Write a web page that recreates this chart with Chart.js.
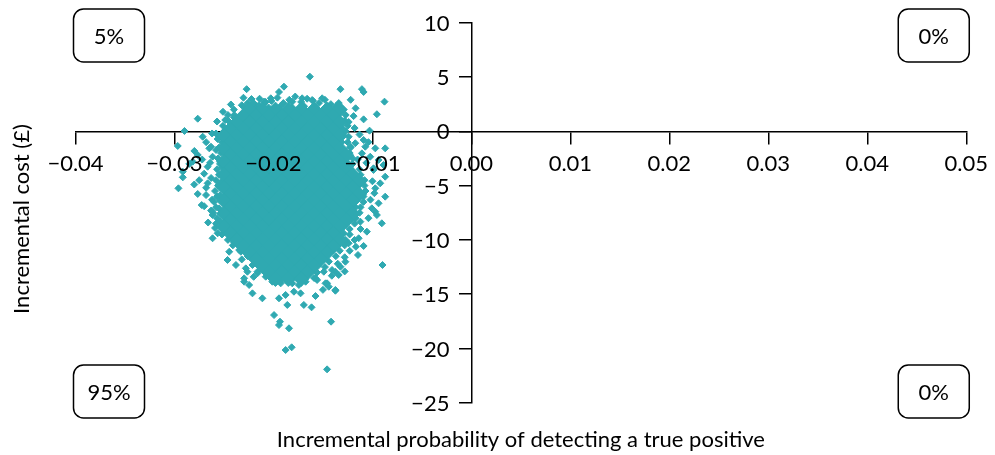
<!DOCTYPE html>
<html>
<head>
<meta charset="utf-8">
<title>Cost-effectiveness plane</title>
<script src="https://cdn.jsdelivr.net/npm/chart.js@4.4.1/dist/chart.umd.min.js"></script>
<style>
  html, body { margin: 0; padding: 0; background: #fff; }
  #wrap { width: 995px; height: 455px; }
</style>
</head>
<body>
<div id="wrap"><canvas id="planeChart" width="995" height="455"></canvas></div>
<script>
// axis ticks
const xTicks = [-0.04, -0.03, -0.02, -0.01, 0, 0.01, 0.02, 0.03, 0.04, 0.05];
const yTicks = [-25, -20, -15, -10, -5, 0, 5, 10];

// share of simulations in each quadrant: NW, NE, SW, SE
const quadrantLabels = ["5%", "0%", "95%", "0%"];

const xTitle = "Incremental probability of detecting a true positive";
const yTitle = "Incremental cost (£)";

// solid centre of the cloud, read row by row: [cost, [probabilities]]
const coreRows = [
  [2.0, [-0.0224, -0.0211, -0.0198, -0.0185, -0.0172, -0.0159, -0.0146, -0.0133]],
  [1.4, [-0.02305, -0.02175, -0.02045, -0.01915, -0.01785, -0.01655, -0.01525, -0.01395]],
  [0.8, [-0.0237, -0.0224, -0.0211, -0.0198, -0.0185, -0.0172, -0.0159, -0.0146, -0.0133]],
  [0.2, [-0.02435, -0.02305, -0.02175, -0.02045, -0.01915, -0.01785, -0.01655, -0.01525, -0.01395]],
  [-0.4, [-0.025, -0.0237, -0.0224, -0.0211, -0.0198, -0.0185, -0.0172, -0.0159, -0.0146, -0.0133]],
  [-1.0, [-0.02435, -0.02305, -0.02175, -0.02045, -0.01915, -0.01785, -0.01655, -0.01525, -0.01395]],
  [-1.6, [-0.025, -0.0237, -0.0224, -0.0211, -0.0198, -0.0185, -0.0172, -0.0159, -0.0146, -0.0133]],
  [-2.2, [-0.02435, -0.02305, -0.02175, -0.02045, -0.01915, -0.01785, -0.01655, -0.01525, -0.01395, -0.01265]],
  [-2.8, [-0.025, -0.0237, -0.0224, -0.0211, -0.0198, -0.0185, -0.0172, -0.0159, -0.0146, -0.0133]],
  [-3.4, [-0.02435, -0.02305, -0.02175, -0.02045, -0.01915, -0.01785, -0.01655, -0.01525, -0.01395, -0.01265]],
  [-4.0, [-0.025, -0.0237, -0.0224, -0.0211, -0.0198, -0.0185, -0.0172, -0.0159, -0.0146, -0.0133, -0.012]],
  [-4.6, [-0.02435, -0.02305, -0.02175, -0.02045, -0.01915, -0.01785, -0.01655, -0.01525, -0.01395, -0.01265, -0.01135]],
  [-5.2, [-0.025, -0.0237, -0.0224, -0.0211, -0.0198, -0.0185, -0.0172, -0.0159, -0.0146, -0.0133, -0.012]],
  [-5.8, [-0.02435, -0.02305, -0.02175, -0.02045, -0.01915, -0.01785, -0.01655, -0.01525, -0.01395, -0.01265, -0.01135]],
  [-6.4, [-0.025, -0.0237, -0.0224, -0.0211, -0.0198, -0.0185, -0.0172, -0.0159, -0.0146, -0.0133, -0.012]],
  [-7.0, [-0.02435, -0.02305, -0.02175, -0.02045, -0.01915, -0.01785, -0.01655, -0.01525, -0.01395, -0.01265]],
  [-7.6, [-0.025, -0.0237, -0.0224, -0.0211, -0.0198, -0.0185, -0.0172, -0.0159, -0.0146, -0.0133, -0.012]],
  [-8.2, [-0.02435, -0.02305, -0.02175, -0.02045, -0.01915, -0.01785, -0.01655, -0.01525, -0.01395, -0.01265]],
  [-8.8, [-0.025, -0.0237, -0.0224, -0.0211, -0.0198, -0.0185, -0.0172, -0.0159, -0.0146, -0.0133]],
  [-9.4, [-0.02435, -0.02305, -0.02175, -0.02045, -0.01915, -0.01785, -0.01655, -0.01525, -0.01395]],
  [-10.0, [-0.0237, -0.0224, -0.0211, -0.0198, -0.0185, -0.0172, -0.0159, -0.0146, -0.0133]],
  [-10.6, [-0.02305, -0.02175, -0.02045, -0.01915, -0.01785, -0.01655, -0.01525, -0.01395]],
  [-11.2, [-0.0224, -0.0211, -0.0198, -0.0185, -0.0172, -0.0159, -0.0146]],
  [-11.8, [-0.02175, -0.02045, -0.01915, -0.01785, -0.01655, -0.01525]],
  [-12.4, [-0.0211, -0.0198, -0.0185, -0.0172, -0.0159]],
  [-13.0, [-0.02045, -0.01915, -0.01785, -0.01655]],
  [-13.6, [-0.0198, -0.0185, -0.0172]]
];

// points along the rim of the dense part
const edgePoints = [
  // left rim
  [-0.0232, 2.4], [-0.0240, 2.0], [-0.0246, 1.5], [-0.0246, 1.0], [-0.0251, 0.5], [-0.0250, 0.0],
  [-0.0254, -0.5], [-0.0252, -1.0], [-0.0255, -1.5], [-0.0253, -2.0], [-0.0256, -2.5], [-0.0254, -3.0],
  [-0.0257, -3.5], [-0.0255, -4.0], [-0.0258, -4.5], [-0.0256, -5.0], [-0.0259, -5.5], [-0.0257, -6.0],
  [-0.0260, -6.5], [-0.0258, -7.0], [-0.0261, -7.5], [-0.0257, -8.0], [-0.0258, -8.5], [-0.0252, -9.0],
  [-0.0252, -9.5], [-0.0246, -10.0], [-0.0241, -10.5], [-0.0230, -11.0], [-0.0226, -11.5], [-0.0216, -12.0],
  [-0.0214, -12.5], [-0.0206, -13.0], [-0.0203, -13.5],
  [-0.0240, 1.3], [-0.0252, -3.3], [-0.0253, -4.7], [-0.0254, -5.9], [-0.0255, -7.1], [-0.0254, -8.3],
  // right rim
  [-0.0134, 2.6], [-0.0130, 2.0], [-0.0127, 1.5], [-0.0128, 1.0], [-0.0125, 0.5], [-0.0127, 0.0],
  [-0.0124, -0.5], [-0.0125, -1.0], [-0.0122, -1.5], [-0.0123, -2.0], [-0.0120, -2.5], [-0.0120, -3.0],
  [-0.0113, -3.5], [-0.0112, -4.0], [-0.0108, -4.5], [-0.0108, -5.0], [-0.0107, -5.5], [-0.0109, -6.0],
  [-0.0109, -6.5], [-0.0112, -7.0], [-0.0113, -7.5], [-0.0117, -8.0], [-0.0118, -8.5], [-0.0123, -9.0],
  [-0.0123, -9.5], [-0.0127, -10.0], [-0.0128, -10.5], [-0.0133, -11.0], [-0.0137, -11.5], [-0.0144, -12.0],
  [-0.0148, -12.5], [-0.0156, -13.0], [-0.0159, -13.5],
  [-0.0130, 0.2], [-0.0131, -1.0], [-0.0126, -2.8], [-0.0117, -7.0], [-0.0129, -9.4],
  // top rim
  [-0.0226, 2.6], [-0.0220, 2.6], [-0.0214, 3.0], [-0.0208, 2.7], [-0.0202, 2.8],
  [-0.0196, 3.1], [-0.0190, 2.6], [-0.0184, 2.9], [-0.0178, 3.2], [-0.0172, 2.7], [-0.0166, 3.0],
  [-0.0160, 2.8], [-0.0154, 2.6], [-0.0148, 2.9], [-0.0142, 2.5], [-0.0137, 2.3],
  [-0.0229, 2.2], [-0.0217, 2.3], [-0.0205, 2.2], [-0.0193, 2.3], [-0.0181, 2.2], [-0.0169, 2.3],
  [-0.0157, 2.2], [-0.0145, 2.3]
];

// scattered simulations around the cloud
const outlierPoints = [
  [-0.01632, 5.03], [-0.01894, 4.11], [-0.02271, 3.88], [-0.01323, 3.88], [-0.01106, 3.88], [-0.01089, 3.62],
  [-0.00878, 2.73], [-0.00955, 1.57], [-0.01089, 1.10], [-0.01170, 2.12], [-0.01240, 0.86], [-0.01029, 0.06],
  [-0.02430, 2.47], [-0.02765, 1.16], [-0.02899, 0.03], [-0.02967, -1.35], [-0.02715, -0.50], [-0.02487, 1.04],
  [-0.02303, 3.09], [-0.02222, 2.97], [-0.02027, 3.04], [-0.01944, 3.62], [-0.01810, 2.73], [-0.01710, 3.04],
  [-0.01609, 2.88], [-0.01508, 3.04], [-0.01424, 2.12], [-0.01341, 2.27], [-0.02396, 1.50], [-0.02346, 0.88],
  [-0.02145, 2.42], [-0.02095, 2.73],
  [-0.02564, -0.71], [-0.02631, -1.42], [-0.02580, -1.72], [-0.02799, -1.81], [-0.02765, -2.18], [-0.02816, -2.80],
  [-0.02665, -3.26], [-0.02916, -3.72], [-0.02916, -4.24], [-0.02960, -5.25], [-0.02765, -5.77], [-0.02725, -6.79],
  [-0.02665, -4.79], [-0.02681, -5.87], [-0.02615, -9.85], [-0.02615, -7.71], [-0.02648, -1.57], [-0.02615, -2.34],
  [-0.0262, -0.2], [-0.0268, -1.0], [-0.0272, -2.6], [-0.0264, -2.9], [-0.0270, -3.9], [-0.0263, -4.3],
  [-0.0275, -4.5], [-0.0268, -5.2], [-0.0262, -6.3], [-0.0270, -6.9], [-0.0263, -7.3], [-0.0266, -8.4],
  [-0.0259, -8.9], [-0.0285, -3.0], [-0.0280, -4.9], [-0.0258, -0.2], [-0.0251, 1.8], [-0.0257, 0.9],
  [-0.00871, -1.57], [-0.01072, -1.42], [-0.01173, -1.10], [-0.01089, -0.80], [-0.00971, -1.57], [-0.01106, -2.03],
  [-0.01022, -2.34], [-0.00938, -2.64], [-0.00888, -3.10], [-0.00989, -3.41], [-0.00871, -4.18], [-0.00921, -4.79],
  [-0.00971, -5.25], [-0.00871, -6.02], [-0.00938, -6.63], [-0.00955, -7.71], [-0.01006, -7.09], [-0.00905, -8.47],
  [-0.01056, -9.24], [-0.01122, -8.32], [-0.01139, -9.85], [-0.01089, -10.56], [-0.01167, -10.63], [-0.01146, -11.39],
  [-0.00898, -12.31], [-0.00971, -7.40], [-0.00989, -3.56], [-0.01223, -1.42],
  [-0.0118, 0.3], [-0.0113, -0.3], [-0.0104, -1.0], [-0.0115, -2.6], [-0.0106, -2.9], [-0.0100, -4.6],
  [-0.0098, -5.7], [-0.0102, -6.3], [-0.0104, -8.0], [-0.0112, -9.0], [-0.0118, -10.0], [-0.0123, -11.0],
  [-0.0128, -11.6], [-0.0135, -12.2], [-0.0119, 1.4], [-0.0122, 2.9],
  [-0.02447, -11.09], [-0.02464, -11.85], [-0.02329, -11.09], [-0.02379, -12.31], [-0.02279, -12.62], [-0.02296, -13.54],
  [-0.02480, -9.09], [-0.02430, -9.71], [-0.02564, -9.39], [-0.02346, -10.93], [-0.02212, -12.31], [-0.02162, -12.93],
  [-0.0240, -10.2], [-0.0232, -11.8], [-0.0220, -13.4],
  [-0.01240, -10.31], [-0.01273, -12.01], [-0.01408, -12.77], [-0.01323, -12.47], [-0.01374, -14.61], [-0.01474, -14.00],
  [-0.0141, -13.3], [-0.0150, -14.6], [-0.0128, -12.9]
];

// lower tail of the cloud
const tailPoints = [
  [-0.02263, -12.93], [-0.02162, -13.08], [-0.02078, -13.39], [-0.01994, -13.23], [-0.01911, -13.54], [-0.01826, -13.08],
  [-0.01743, -13.39], [-0.01659, -13.08], [-0.01575, -13.54], [-0.01491, -12.93], [-0.01374, -12.93], [-0.01341, -13.23],
  [-0.02296, -13.85], [-0.02246, -14.15], [-0.02011, -13.85], [-0.01927, -14.00], [-0.01810, -14.00], [-0.01743, -14.15],
  [-0.01675, -13.85], [-0.01559, -13.69], [-0.01458, -14.00], [-0.01441, -14.31],
  [-0.02212, -14.92], [-0.02112, -15.38], [-0.01944, -15.38], [-0.01877, -15.07], [-0.01793, -14.77], [-0.01726, -14.92],
  [-0.01575, -15.17], [-0.01374, -14.68],
  [-0.01860, -15.99], [-0.01693, -15.99], [-0.01615, -16.21],
  [-0.01994, -16.92], [-0.01934, -17.53], [-0.01944, -17.84], [-0.01843, -18.14], [-0.01418, -17.53],
  [-0.01877, -20.14], [-0.01816, -19.89],
  [-0.01458, -21.92]
];

const teal = "#2fa9b1";

function toXY(list) {
  return list.map((p) => ({ x: p[0], y: p[1] }));
}

let corePoints = [];
for (let row of coreRows) {
  for (let p of row[1]) {
    corePoints.push({ x: p, y: row[0] });
  }
}

function fmt(v, digits) {
  let s = Math.abs(v) < 1e-9 ? (0).toFixed(digits) : Number(v).toFixed(digits);
  return s.replace("-", "\u2212");
}

function roundBox(ctx, x, y, w, h, r) {
  ctx.beginPath();
  ctx.moveTo(x + r, y);
  ctx.lineTo(x + w - r, y);
  ctx.arcTo(x + w, y, x + w, y + r, r);
  ctx.lineTo(x + w, y + h - r);
  ctx.arcTo(x + w, y + h, x + w - r, y + h, r);
  ctx.lineTo(x + r, y + h);
  ctx.arcTo(x, y + h, x, y + h - r, r);
  ctx.lineTo(x, y + r);
  ctx.arcTo(x, y, x + r, y, r);
  ctx.closePath();
}

// y tick labels (left of the centred axis), quadrant boxes and axis titles
const planeExtras = {
  id: "planeExtras",
  afterDraw(chart) {
    const ctx = chart.ctx;
    const a = chart.chartArea;
    const xs = chart.scales.x, ys = chart.scales.y;
    const axisX = xs.getPixelForValue(0);
    ctx.save();
    ctx.fillStyle = "#000";
    ctx.font = "22px Lato";
    ctx.textAlign = "right";
    ctx.textBaseline = "middle";
    for (let v of yTicks) {
      ctx.fillText(fmt(v, 0), axisX - 22, ys.getPixelForValue(v) + 1);
    }

    const w = 71, h = 53;
    const spots = [
      [a.left - 2, 9], [a.right + 3 - w, 9],
      [a.left - 2, 365], [a.right + 3 - w, 365]
    ];
    ctx.strokeStyle = "#000";
    ctx.lineWidth = 1.5;
    ctx.textAlign = "center";
    spots.forEach((s, i) => {
      roundBox(ctx, s[0], s[1], w, h, 10);
      ctx.stroke();
      ctx.fillText(quadrantLabels[i], s[0] + w / 2, s[1] + h / 2 + 1);
    });
    ctx.fillText(xTitle, (a.left + a.right) / 2, 440);
    ctx.translate(22, 219);
    ctx.rotate(-Math.PI / 2);
    ctx.fillText(yTitle, 0, 0);
    ctx.restore();
  }
};

const tickFont = { family: "Lato", size: 22 };

new Chart(document.getElementById("planeChart"), {
  type: "scatter",
  data: {
    datasets: [
      {
        data: corePoints,
        pointStyle: "rectRot",
        pointRadius: 7.5,
        borderWidth: 1,
        backgroundColor: teal,
        borderColor: teal
      },
      {
        data: toXY(edgePoints.concat(outlierPoints, tailPoints)),
        pointStyle: "rectRot",
        pointRadius: 3.5,
        borderWidth: 1,
        backgroundColor: teal,
        borderColor: teal
      }
    ]
  },
  options: {
    responsive: false,
    devicePixelRatio: 1,
    animation: false,
    events: [],
    layout: { padding: { left: 75.5, right: 24.5, top: 22.7, bottom: 52.2 } },
    plugins: { legend: { display: false }, tooltip: { enabled: false } },
    scales: {
      x: {
        type: "linear",
        min: -0.04,
        max: 0.05,
        position: { y: 0 },
        afterBuildTicks: (s) => { s.ticks = xTicks.map((v) => ({ value: v })); },
        ticks: {
          font: tickFont, color: "#000", padding: 7, z: 1,
          autoSkip: false, maxRotation: 0,
          callback: (v) => fmt(v, 2)
        },
        grid: { drawOnChartArea: false, drawTicks: true, tickLength: 12, color: "#000", lineWidth: 1.5 },
        border: { display: true, color: "#000", width: 1.5 }
      },
      y: {
        type: "linear",
        min: -25,
        max: 10,
        position: { x: 0 },
        afterBuildTicks: (s) => { s.ticks = yTicks.map((v) => ({ value: v })); },
        ticks: { display: false },
        grid: { drawOnChartArea: false, drawTicks: true, tickLength: 12, color: "#000", lineWidth: 1.5 },
        border: { display: true, color: "#000", width: 1.5 }
      }
    }
  },
  plugins: [planeExtras]
});
</script>
</body>
</html>
